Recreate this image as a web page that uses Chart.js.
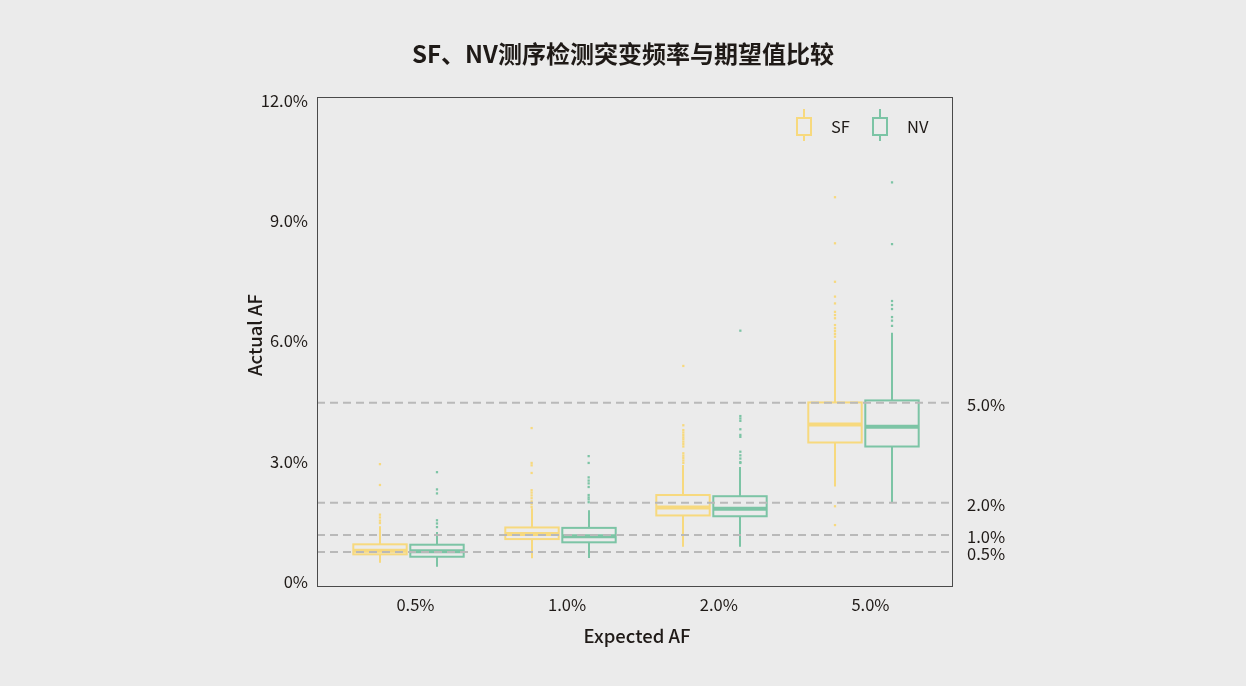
<!DOCTYPE html>
<html>
<head>
<meta charset="utf-8">
<script src="https://cdn.jsdelivr.net/npm/chart.js@4/dist/chart.umd.min.js"></script>
<style>
  html, body { margin: 0; padding: 0; background: #ebebeb; }
  #wrap { width: 1246px; height: 686px; }
</style>
</head>
<body>
<div id="wrap"><canvas id="boxChart" width="1246" height="686"></canvas></div>
<script>
// categories on the x axis
const categories = ['0.5%', '1.0%', '2.0%', '5.0%'];
const seriesNames = ['SF', 'NV'];

// SF box stats (Actual AF, %)
const sfLow = [0.47, 0.58, 0.87, 2.37];
const sfQ1 = [0.68, 1.06, 1.65, 3.47];
const sfMedian = [0.77, 1.19, 1.85, 3.92];
const sfQ3 = [0.93, 1.35, 2.16, 4.47];
const sfHigh = [1.38, 1.83, 2.91, 6.03];
const sfOutliers = [
    [1.46, 1.52, 1.6, 1.67, 2.41, 2.93],
    [1.86, 1.93, 2.0, 2.08, 2.15, 2.22, 2.28, 2.71, 2.9, 2.96, 3.83],
    [2.96, 3.02, 3.08, 3.14, 3.2, 3.37, 3.43, 3.49, 3.55, 3.6, 3.66, 3.72, 3.78, 3.9, 5.38],
    [1.41, 1.88, 6.11, 6.18, 6.25, 6.32, 6.4, 6.57, 6.65, 6.73, 6.94, 7.11, 7.48, 8.44, 9.59]
];

// NV box stats
const nvLow = [0.37, 0.59, 0.87, 1.97];
const nvQ1 = [0.62, 0.98, 1.63, 3.37];
const nvMedian = [0.76, 1.13, 1.82, 3.86];
const nvQ3 = [0.92, 1.34, 2.13, 4.52];
const nvHigh = [1.24, 1.78, 2.86, 6.21];
const nvOutliers = [
    [1.36, 1.45, 1.53, 2.2, 2.3, 2.73],
    [1.98, 2.05, 2.1, 2.16, 2.36, 2.45, 2.52, 2.6, 2.96, 3.13],
    [2.96, 2.98, 3.07, 3.15, 3.24, 3.61, 3.66, 3.8, 4.01, 4.07, 4.13, 6.26],
    [6.38, 6.51, 6.6, 6.8, 6.9, 7.0, 8.42, 9.96]
];

// dashed reference lines and their right-side labels
const refValues = [4.46, 1.97, 1.16, 0.74];
const refLabels = ['5.0%', '2.0%', '1.0%', '0.5%'];

// y tick labels
const yTickValues = [0, 3, 6, 9, 12];
const yTickLabels = ['0%', '3.0%', '6.0%', '9.0%', '12.0%'];

const FONT = "'Noto Sans CJK SC', 'Noto Sans', sans-serif";
const TEXT = '#1f1a17';
const colors = ['#f7d97e', '#7cc4a5'];
const boxOffset = 0.188;   // half distance between SF / NV box centers (x units)
const boxWidth = 0.352;    // box width (x units)

const stats = [
    { low: sfLow, q1: sfQ1, med: sfMedian, q3: sfQ3, high: sfHigh, out: sfOutliers },
    { low: nvLow, q1: nvQ1, med: nvMedian, q3: nvQ3, high: nvHigh, out: nvOutliers }
];

function outlierPoints(s, sign) {
    const pts = [];
    s.out.forEach(function (vals, i) {
        vals.forEach(function (v) { pts.push({ x: i + sign * boxOffset, y: v }); });
    });
    return pts;
}

// ===============================
// box, whisker, reference line drawing
// ===============================
const boxPlugin = {
    id: 'boxPlugin',
    beforeDatasetsDraw(chart) {
        const ctx = chart.ctx;
        const xs = chart.scales.x, ys = chart.scales.y;
        const halfW = (xs.getPixelForValue(boxWidth) - xs.getPixelForValue(0)) / 2;
        ctx.save();
        stats.forEach(function (s, k) {
            const sign = k === 0 ? -1 : 1;
            ctx.strokeStyle = colors[k];
            categories.forEach(function (c, i) {
                const cx = Math.round(xs.getPixelForValue(i + sign * boxOffset));
                const yq1 = ys.getPixelForValue(s.q1[i]);
                const yq3 = ys.getPixelForValue(s.q3[i]);
                // whiskers
                ctx.lineWidth = 2;
                ctx.beginPath();
                ctx.moveTo(cx, ys.getPixelForValue(s.high[i]));
                ctx.lineTo(cx, yq3);
                ctx.moveTo(cx, yq1);
                ctx.lineTo(cx, ys.getPixelForValue(s.low[i]));
                ctx.stroke();
                // box
                ctx.strokeRect(cx - halfW, yq3, halfW * 2, yq1 - yq3);
                // median
                ctx.lineWidth = 4;
                const ym = ys.getPixelForValue(s.med[i]);
                ctx.beginPath();
                ctx.moveTo(cx - halfW, ym);
                ctx.lineTo(cx + halfW, ym);
                ctx.stroke();
            });
        });
        ctx.restore();
    },
    afterDatasetsDraw(chart) {
        const ctx = chart.ctx;
        const a = chart.chartArea;
        const ys = chart.scales.y;
        ctx.save();
        // dashed reference lines
        ctx.strokeStyle = '#b9b9b9';
        ctx.lineWidth = 2;
        ctx.setLineDash([8, 5]);
        refValues.forEach(function (v) {
            const y = ys.getPixelForValue(v);
            ctx.beginPath();
            ctx.moveTo(a.left, y);
            ctx.lineTo(a.right, y);
            ctx.stroke();
        });
        ctx.setLineDash([]);
        // frame
        ctx.strokeStyle = '#4a4a4a';
        ctx.lineWidth = 1;
        ctx.strokeRect(a.left + 0.5, a.top + 0.5, a.right - a.left - 1, a.bottom - a.top);
        // right labels
        ctx.fillStyle = TEXT;
        ctx.font = '16.5px ' + FONT;
        ctx.textAlign = 'left';
        ctx.textBaseline = 'middle';
        refValues.forEach(function (v, i) {
            ctx.fillText(refLabels[i], a.right + 14, ys.getPixelForValue(v) + 2);
        });
        // title
        ctx.textAlign = 'center';
        ctx.font = 'bold 24px ' + FONT;
        ctx.fillText('SF、NV测序检测突变频率与期望值比较', 623, 54);
        // axis titles
        ctx.font = '500 18.5px ' + FONT;
        ctx.fillText('Expected AF', 637, 636);
        ctx.save();
        ctx.translate(255, 335);
        ctx.rotate(-Math.PI / 2);
        ctx.fillText('Actual AF', 0, 0);
        ctx.restore();
        // legend
        ctx.font = '16.5px ' + FONT;
        ctx.textAlign = 'left';
        const legendX = [a.right - 156, a.right - 80];
        seriesNames.forEach(function (name, k) {
            const lx = legendX[k];
            const ly = a.top + 29;
            ctx.strokeStyle = colors[k];
            ctx.lineWidth = 2;
            ctx.beginPath();
            ctx.moveTo(lx + 7, ly - 17);
            ctx.lineTo(lx + 7, ly + 15);
            ctx.stroke();
            ctx.fillStyle = '#ebebeb';
            ctx.fillRect(lx, ly - 8, 14, 17);
            ctx.strokeRect(lx, ly - 8, 14, 17);
            ctx.fillStyle = TEXT;
            ctx.fillText(name, lx + 34, ly + 1);
        });
        ctx.restore();
    }
};

const ctxBox = document.getElementById('boxChart').getContext('2d');

new Chart(ctxBox, {
    type: 'scatter',
    data: {
        datasets: [
            {
                label: 'SF',
                data: outlierPoints(stats[0], -1),
                backgroundColor: colors[0],
                borderWidth: 0,
                pointStyle: 'rect',
                pointRadius: 1.6
            },
            {
                label: 'NV',
                data: outlierPoints(stats[1], 1),
                backgroundColor: colors[1],
                borderWidth: 0,
                pointStyle: 'rect',
                pointRadius: 1.6
            }
        ]
    },
    options: {
        responsive: false,
        animation: false,
        layout: { padding: { top: 97, right: 293, bottom: 0, left: 0 } },
        plugins: {
            legend: { display: false },
            tooltip: { enabled: false },
            title: { display: false }
        },
        scales: {
            x: {
                type: 'linear',
                min: -0.603,
                max: 3.59,
                grid: { display: false, drawTicks: false },
                border: { display: false },
                afterBuildTicks: function (scale) {
                    scale.ticks = categories.map(function (c, i) { return { value: i }; });
                },
                afterFit: function (scale) { scale.height = 100; },
                ticks: {
                    padding: 9,
                    labelOffset: 7,
                    color: TEXT,
                    font: { family: FONT, size: 16.5 },
                    callback: function (v) { return categories[v]; }
                }
            },
            y: {
                min: -0.11,
                max: 12.09,
                grid: { display: false, drawTicks: false },
                border: { display: false },
                afterBuildTicks: function (scale) {
                    scale.ticks = yTickValues.map(function (v) { return { value: v }; });
                },
                afterFit: function (scale) { scale.width = 317; },
                ticks: {
                    padding: 9,
                    color: TEXT,
                    font: { family: FONT, size: 16.5 },
                    callback: function (v) { return yTickLabels[yTickValues.indexOf(v)]; }
                }
            }
        }
    },
    plugins: [boxPlugin]
});
</script>
</body>
</html>
